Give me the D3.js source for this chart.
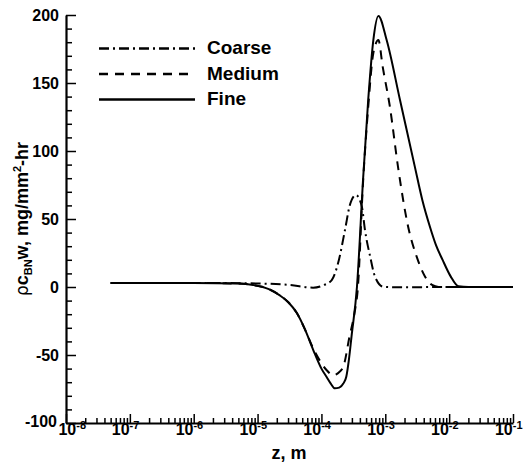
<!DOCTYPE html>
<html>
<head>
<meta charset="utf-8">
<script src="https://cdn.jsdelivr.net/npm/d3@7"></script>
<style>
body { margin: 0; background: #fff; }
text { font-family: "Liberation Sans", Arial, Helvetica, sans-serif; font-weight: bold; fill: #000; }
</style>
</head>
<body>
<svg id="chart" width="530" height="466"></svg>
<script>
// values (z in m, rho*c*w in mg/mm2-hr)
var fineZ = [5e-8, 1e-6, 5e-6, 8.5e-6, 1.5e-5, 2.2e-5, 3e-5, 4.1e-5, 5.5e-5, 7.4e-5, 1.0e-4, 1.2e-4, 1.4e-4, 1.62e-4, 1.9e-4, 2.2e-4, 2.45e-4, 2.7e-4, 2.95e-4, 3.6e-4, 4.5e-4, 5.4e-4, 6.5e-4, 7.8e-4, 1.05e-3, 1.7e-3, 2.9e-3, 3.8e-3, 5.0e-3, 6.2e-3, 7.9e-3, 1.05e-2, 1.4e-2, 2e-2, 1e-1];
var fineW = [3, 3, 2.5, 1.5, -1.5, -6, -11, -19, -31, -46, -60, -66, -71, -74.5, -74, -71, -66, -53, -37, 0, 80, 137.5, 181.6, 199.3, 181.6, 137.5, 88.5, 64, 44.3, 31, 19.9, 8, 0.5, 0, 0];
var medZ = [5e-8, 1e-6, 5e-6, 8.5e-6, 1.5e-5, 2.2e-5, 3e-5, 4.1e-5, 5.5e-5, 7.4e-5, 1.0e-4, 1.2e-4, 1.55e-4, 1.8e-4, 2.2e-4, 2.75e-4, 3.3e-4, 3.7e-4, 4.5e-4, 5.4e-4, 6.5e-4, 7.8e-4, 9.1e-4, 1.18e-3, 1.58e-3, 2.28e-3, 3.1e-3, 4.2e-3, 5.4e-3, 7e-3, 1e-1];
var medW = [3, 3, 2.5, 1.5, -1.5, -6, -11, -19, -31, -45, -56, -61, -65, -63.5, -58.6, -36.5, -19, -2, 78, 132, 172, 181.6, 162, 132.6, 88.5, 44.3, 22.3, 7.6, 1.5, 0, 0];
var coarseZ = [5e-8, 1e-6, 7.6e-6, 3.2e-5, 7.4e-5, 1.1e-4, 1.45e-4, 1.82e-4, 2.34e-4, 2.78e-4, 3.47e-4, 4.3e-4, 4.8e-4, 5.8e-4, 6.9e-4, 9.3e-4, 1.7e-3, 1e-2, 1e-1];
var coarseW = [3, 3, 2.7, 1.5, -0.5, 1.5, 5.1, 17.4, 42, 60, 67.6, 59, 42, 22.3, 7.6, 0.2, -0.2, 0, 0];

var names = ["Coarse", "Medium", "Fine"];
var dashes = ["10,4,2,4", "9,7", null];
var decades = [-8, -7, -6, -5, -4, -3, -2, -1];
var yMajor = [-100, -50, 0, 50, 100, 150, 200];

var svg = d3.select("#chart");
var x = d3.scaleLog().domain([1e-8, 1e-1]).range([66, 513]),
    y = d3.scaleLinear().domain([-100, 200]).range([423, 15]);

var series = [
  {name: names[0], z: coarseZ, w: coarseW, dash: dashes[0]},
  {name: names[1], z: medZ, w: medW, dash: dashes[1]},
  {name: names[2], z: fineZ, w: fineW, dash: dashes[2]}
];

var line = d3.line()
    .x(d => x(d[0]))
    .y(d => y(d[1]))
    .curve(d3.curveMonotoneX);

svg.append("g")
    .attr("fill", "none")
    .attr("stroke", "#000")
    .attr("stroke-width", 2)
  .selectAll("path").data(series).enter()
    .append("path")
    .attr("stroke-dasharray", s => s.dash)
    .attr("d", s => line(s.z.map((z, i) => [z, s.w[i]])));

// axes (ticks point inward)
var minorX = [];
decades.slice(0, -1).forEach(e => { for (var k = 2; k <= 9; k++) minorX.push(k * Math.pow(10, e)); });
var minorY = d3.range(-100, 201, 10).filter(v => v % 50 !== 0);

function styleAxis(g, w) {
  g.select(".domain").attr("stroke-width", w);
  g.selectAll(".tick line").attr("stroke-width", 1.5);
}
svg.append("g").attr("transform", "translate(0,423)")
    .call(d3.axisBottom(x).tickValues(minorX).tickSize(-5).tickSizeOuter(0).tickFormat(""))
    .call(g => g.select(".domain").remove())
    .call(styleAxis, 2);
svg.append("g").attr("transform", "translate(66,0)")
    .call(d3.axisLeft(y).tickValues(minorY).tickSize(-6).tickSizeOuter(0).tickFormat(""))
    .call(g => g.select(".domain").remove())
    .call(styleAxis, 2);
svg.append("g").attr("transform", "translate(0,423)")
    .call(d3.axisBottom(x).tickValues(decades.map(e => Math.pow(10, e))).tickSize(-9).tickSizeOuter(0).tickFormat(""))
    .call(styleAxis, 2.2);
svg.append("g").attr("transform", "translate(66,0)")
    .call(d3.axisLeft(y).tickValues(yMajor).tickSize(-10).tickSizeOuter(0).tickFormat(""))
    .call(styleAxis, 2.2);

// tick labels
svg.append("g").selectAll("text").data(yMajor).enter()
    .append("text")
    .attr("x", d => d === -100 ? 57 : 59).attr("y", d => y(d) - (d === -100 ? 2 : 0)).attr("dy", "0.36em")
    .attr("text-anchor", "end").style("font-size", "16px")
    .text(d => d);

var xl = svg.append("g").selectAll("text").data(decades).enter()
    .append("text")
    .attr("x", d => x(Math.pow(10, d)) + (d === -8 ? 20 : 9.5)).attr("y", 435)
    .attr("text-anchor", "end").style("font-size", "16px");
xl.append("tspan").style("font-size", "16px").text("10");
xl.append("tspan").attr("dy", -6).style("font-size", "11px").text(d => d);

// axis titles
svg.append("text").attr("x", 289).attr("y", 459)
    .attr("text-anchor", "middle").style("font-size", "18px").text("z, m");

var yt = svg.append("text")
    .attr("transform", "translate(28,219) rotate(-90)")
    .attr("text-anchor", "middle").style("font-size", "18px");
yt.append("tspan").style("font-weight", "normal").style("font-family", "DejaVu Sans").style("font-size", "17px").text("ρ");
yt.append("tspan").text("c");
yt.append("tspan").style("font-size", "11px").attr("dy", 4).text("BN");
yt.append("tspan").attr("dy", -4).text("w, mg/mm");
yt.append("tspan").style("font-size", "11px").attr("dy", -7).text("2");
yt.append("tspan").attr("dy", 7).text("-hr");

// legend
var leg = svg.append("g").selectAll("g").data(series).enter()
    .append("g").attr("transform", (s, i) => "translate(0," + [48.5, 74, 99.5][i] + ")");
leg.append("line")
    .attr("x1", 99).attr("x2", 195)
    .attr("stroke", "#000").attr("stroke-width", 2.4)
    .attr("stroke-dasharray", s => s.dash);
leg.append("text").attr("x", 207).attr("y", 5.5)
    .style("font-size", "19px").text(s => s.name);
</script>
</body>
</html>
